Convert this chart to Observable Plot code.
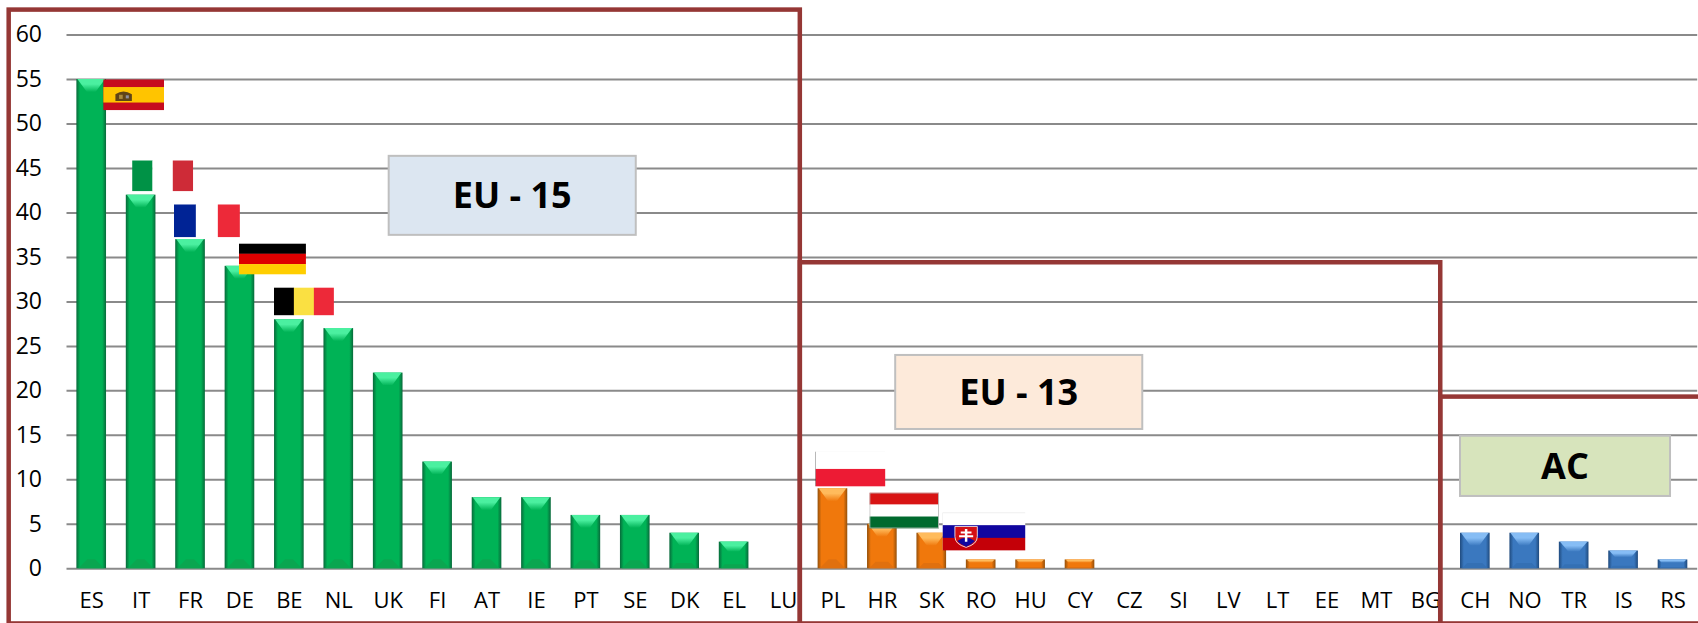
<!DOCTYPE html>
<html><head><meta charset="utf-8">
<script src="https://cdn.jsdelivr.net/npm/d3@7"></script>
<script src="https://cdn.jsdelivr.net/npm/@observablehq/plot@0.6"></script>
<style>html,body{margin:0;padding:0;background:#fff;overflow:hidden}svg{display:block}</style>
</head><body><div id="chart"></div>
<script>
const eu15 = ["ES","IT","FR","DE","BE","NL","UK","FI","AT","IE","PT","SE","DK","EL","LU"];
const eu15Values = [55,42,37,34,28,27,22,12,8,8,6,6,4,3,0];
const eu13 = ["PL","HR","SK","RO","HU","CY","CZ","SI","LV","LT","EE","MT","BG"];
const eu13Values = [9,5,4,1,1,1,0,0,0,0,0,0,0];
const ac = ["CH","NO","TR","IS","RS"];
const acValues = [4,4,3,2,1];
const yTicks = d3.range(0, 61, 5);

// Annotation frames: anchored to a category (offset in band steps) and a y value
const frames = [
  {fromCat:"ES", fromOff:-1.67, toCat:"LU", toOff:0.34, top:62.8, bottom:-6.2},
  {fromCat:"LU", fromOff:0.34, toCat:"BG", toOff:0.3, top:34.4, bottom:-6.2},
  {fromCat:"BG", fromOff:0.3, toCat:"RS", toOff:0.6, top:19.3, bottom:-6.2}
];
const boxes = [
  {label:"EU - 15", fromCat:"UK", fromOff:0.02, toCat:"SE", toOff:0.02, top:46.36, bottom:37.48, fill:"#dce6f1"},
  {label:"EU - 13", fromCat:"HR", fromOff:0.27, toCat:"CZ", toOff:0.27, top:23.98, bottom:15.66, fill:"#fdeada"},
  {label:"AC", fromCat:"CH", fromOff:-0.3, toCat:"RS", toOff:-0.05, top:14.9, bottom:8.13, fill:"#d7e4bc"}
];

function stripesH(cols){const h=60/cols.length;return cols.map((c,i)=>`<rect x="0" y="${i*h}" width="100" height="${h+.3}" fill="${c}"/>`).join("");}
function stripesV(cols){const w=100/cols.length;return cols.map((c,i)=>`<rect x="${i*w}" y="0" width="${w+.3}" height="60" fill="${c}"/>`).join("");}
const flagArt = {
  es:`<rect width="100" height="60" fill="#c60b1e"/><rect y="15" width="100" height="30" fill="#ffc400"/><path d="M20 42V29Q33 18 47 29V42Z" fill="#5f4416"/><rect x="26" y="30" width="6" height="8" fill="#a98a3a"/><rect x="37" y="31" width="5" height="6" fill="#8c8fa0"/>`,
  it:stripesV(["#009246","#ffffff","#ce2b37"]),
  fr:stripesV(["#002395","#ffffff","#ed2939"]),
  de:stripesH(["#000000","#dd0000","#ffce00"]),
  be:stripesV(["#000000","#fae042","#ed2939"]),
  pl:stripesH(["#ffffff","#ed1b34"])+`<rect width=".8" height="60" fill="#222"/><rect width="100" height=".6" fill="#eee"/>`,
  hu:stripesH(["#d81414","#ffffff","#006a2e"])+`<rect x=".6" y=".8" width="98.8" height="58.4" fill="none" stroke="#bdbdbd" stroke-width="1.4"/>`,
  sk:stripesH(["#ffffff","#10069f","#c40008"])+`<rect width="100" height=".9" fill="#ccc"/><rect width=".5" height="60" fill="#ccc"/><path d="M15 22H42V38Q42 50 28.500 55Q15 50 15 38Z" fill="#d40f14" stroke="#eee" stroke-width="1.2"/><path d="M18 45Q28 35 39 45Q35 51 28.500 54Q22 51 18 45Z" fill="#10069f"/><path d="M27 26h3v4h5v3h-5v3h7v3h-7v7h-3v-7h-7v-3h7v-3h-5v-3h5z" fill="#fff"/>`
};
const flagUri = k => "data:image/svg+xml," + encodeURIComponent(`<svg xmlns="http://www.w3.org/2000/svg" viewBox="0 0 100 60" preserveAspectRatio="none">${flagArt[k]}</svg>`);

const flagCats = ["ES","IT","FR","DE","BE","PL","HR","SK"];
const flagKeys = ["es","it","fr","de","be","pl","hu","sk"];
const flagDx = [42,21.5,16.3,32.5,14.5,17.5,21.8,52.2];
const flagDy = [15.3,-19.3,-18.8,-7.4,-18.3,-19.8,-13.8,-1.7];
const flagW = [61,61,66,67,60,70,69.5,83];
const flagH = [31,31,33,31,28,35,36,38];

const categories = [...eu15, ...eu13, ...ac];
const rows = (cats, vals) => cats.map((c,i)=>({country:c, value:vals[i]}));
const allRows = [...rows(eu15,eu15Values), ...rows(eu13,eu13Values), ...rows(ac,acValues)];

const palettes = {
  green:{edge:"#08693a", mid:"#00b356", hi:"#4bf0a0", base:"#0aa650"},
  orange:{edge:"#94500a", mid:"#f0780c", hi:"#ffbb5c", base:"#e0700f"},
  blue:{edge:"#1f4a7d", mid:"#3a78bf", hi:"#86bdf5", base:"#3470b4"}
};
function defs(){
  const d = d3.create("svg:defs");
  for (const [k,p] of Object.entries(palettes)) {
    const g = d.append("linearGradient").attr("id","bar-"+k);
    [[0,p.edge],[.13,p.mid],[.87,p.mid],[1,p.edge]].forEach(([o,c])=>g.append("stop").attr("offset",o).attr("stop-color",c));
    const h = d.append("linearGradient").attr("id","hi-"+k).attr("x1",0).attr("x2",0).attr("y1",0).attr("y2",1);
    [[0,p.hi],[.4,p.hi],[1,p.mid]].forEach(([o,c])=>h.append("stop").attr("offset",o).attr("stop-color",c));
  }
  return d.node();
}
function bevelBars(data, key){
  return Plot.barY(data, {
    x:"country", y:"value", fill:`url(#bar-${key})`,
    style:"filter:drop-shadow(0 1px 1.5px rgba(0,0,0,.4))",
    render(index, scales, values, dims, ctx, next){
      const g = next(index, scales, values, dims, ctx);
      d3.select(g).selectAll("rect").each(function(){
        const x=+this.getAttribute("x"), y=+this.getAttribute("y"), w=+this.getAttribute("width"), h=+this.getAttribute("height");
        if(!(h>0)) return;
        const bh=Math.min(13,h*.38), m=Math.min(bh*.85,w*.32);
        const top=document.createElementNS("http://www.w3.org/2000/svg","path");
        top.setAttribute("d",`M${x+1},${y}H${x+w-1}L${x+w-1-m},${y+bh}H${x+1+m}Z`);
        top.setAttribute("fill",`url(#hi-${key})`);
        g.appendChild(top);
        const bot=document.createElementNS("http://www.w3.org/2000/svg","path");
        const bb=Math.min(9,h*.15);
        bot.setAttribute("d",`M${x+2},${y+h}H${x+w-2}L${x+w-2-bb},${y+h-bb}H${x+2+bb}Z`);
        bot.setAttribute("fill",palettes[key].base);
        g.appendChild(bot);
      });
      return g;
    }
  });
}
function overlay(kind){
  return function(index, scales){
    const bw = scales.x.bandwidth ? scales.x.bandwidth() : 0;
    const step = scales.x.step ? scales.x.step() : bw;
    const X = (c,o) => scales.x(c) + bw/2 + o*step;
    const g = d3.create("svg:g");
    if (kind==="boxes") for (const b of boxes) {
      const x1=X(b.fromCat,b.fromOff), x2=X(b.toCat,b.toOff), y1=scales.y(b.top), y2=scales.y(b.bottom);
      g.append("rect").attr("x",x1).attr("y",y1).attr("width",x2-x1).attr("height",y2-y1).attr("fill",b.fill).attr("stroke","#bfbfbf").attr("stroke-width",2);
      g.append("text").attr("x",(x1+x2)/2).attr("y",(y1+y2)/2).attr("dy","0.36em").attr("text-anchor","middle")
        .attr("font-family","'Open Sans'").attr("font-weight",700).attr("font-size",36).attr("fill","#000").text(b.label);
    }
    if (kind==="frames") for (const f of frames) {
      const x1=X(f.fromCat,f.fromOff), x2=X(f.toCat,f.toOff), y1=scales.y(f.top), y2=scales.y(f.bottom);
      g.append("rect").attr("x",x1).attr("y",y1).attr("width",x2-x1).attr("height",y2-y1)
        .attr("fill","none").attr("stroke","#953735").attr("stroke-width",4.5);
    }
    return g.node();
  };
}

const flagRows = flagCats.map((c,i)=>({country:c, key:flagKeys[i], value:allRows.find(r=>r.country===c).value, dx:flagDx[i], dy:flagDy[i], w:flagW[i], h:flagH[i]}));

const plot = Plot.plot({
  width:1698, height:623,
  marginLeft:66.5, marginRight:0.8, marginTop:34.5, marginBottom:54.7,
  style:{background:"#fff", fontFamily:"'Open Sans'", color:"#000"},
  x:{type:"band", domain:categories, paddingInner:.4, paddingOuter:.2, round:false, label:null},
  y:{domain:[0,60], label:null},
  marks:[
    defs,
    Plot.ruleY(yTicks, {stroke:"#8a8a8a", strokeWidth:2}),
    bevelBars(rows(eu15,eu15Values),"green"),
    bevelBars(rows(eu13,eu13Values),"orange"),
    bevelBars(rows(ac,acValues),"blue"),
    Plot.axisY({ticks:yTicks, tickSize:0, tickPadding:25, fontSize:23, label:null, fill:"#000", tickFormat:d=>String(d)}),
    Plot.axisX({tickSize:0, tickPadding:24, fontSize:22, label:null, fill:"#000"}),
    overlay("boxes"),
    ...flagRows.map(f => Plot.image([f], {
      x:"country", y:"value", src:d=>flagUri(d.key), dx:f.dx, dy:f.dy, width:f.w, height:f.h, preserveAspectRatio:"none"
    })),
    overlay("frames")
  ]
});
document.getElementById("chart").appendChild(plot);
</script></body></html>
